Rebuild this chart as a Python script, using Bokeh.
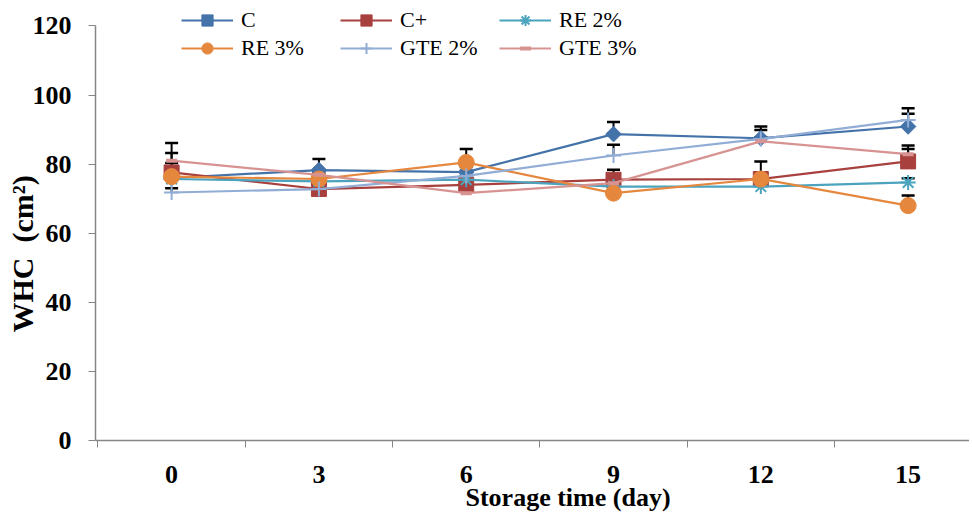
import math
from bokeh.plotting import figure
from bokeh.models import (ColumnDataSource, FixedTicker, Legend, LegendItem,
                          Whisker, TeeHead, Title, Range1d)
from bokeh.embed import file_html
from bokeh.resources import INLINE

# ---- data ----
days = [0, 3, 6, 9, 12, 15]
day_labels = ["0", "3", "6", "9", "12", "15"]
series_names = ["C", "C+", "RE 2%", "RE 3%", "GTE 2%", "GTE 3%"]

c_vals = [76.0, 78.3, 77.7, 88.7, 87.5, 90.9]
cplus_vals = [77.6, 72.8, 74.0, 75.5, 75.7, 80.8]
re2_vals = [75.7, 75.0, 75.5, 73.5, 73.5, 74.7]
re3_vals = [76.4, 75.7, 80.5, 71.6, 75.7, 68.0]
gte2_vals = [71.8, 72.8, 76.6, 82.5, 87.3, 92.8]
gte3_vals = [81.0, 76.9, 71.6, 74.5, 86.6, 82.9]

c_err = [7.2, 3.2, 1.5, 3.5, 3.4, 3.7]
cplus_err = [2.7, 1.5, 1.5, 2.9, 5.1, 4.6]
re2_err = [1.2, 1.0, 1.2, 1.0, 1.0, 1.2]
re3_err = [1.5, 1.5, 3.9, 1.5, 1.5, 2.9]
gte2_err = [1.2, 1.0, 1.5, 3.1, 2.6, 3.4]
gte3_err = [5.1, 1.0, 1.0, 1.0, 1.2, 1.5]

y_ticks = [0, 20, 40, 60, 80, 100, 120]
cat_bounds = [-1.5, 1.5, 4.5, 7.5, 10.5, 13.5]

x_title = "Storage time (day)"
y_title = "WHC\u00a0\u00a0(cm²)"

# ---- styles ----
colors = ["#4473AA", "#A8403E", "#4BA3BE", "#E5873D", "#91ADD6", "#D69391"]
markers = ["square", "square", "asterisk", "circle", "cross", "dash"]
angles = [math.pi / 4, 0, 0, 0, 0, 0]
sizes = [11, 15, 15, 16, 15, 11]
mlw = [1, 1, 2, 1, 2, 4]
filled = [True, True, False, True, False, False]

vals = [c_vals, cplus_vals, re2_vals, re3_vals, gte2_vals, gte3_vals]
errs = [c_err, cplus_err, re2_err, re3_err, gte2_err, gte3_err]

FONT = "Liberation Serif"

p = figure(width=969, height=512, output_backend="svg", toolbar_location=None,
           x_range=Range1d(-1.55, 16.25), y_range=Range1d(0, 126.8),
           min_border_left=95, min_border_right=0, min_border_top=2,
           min_border_bottom=72)
p.outline_line_color = None
p.xgrid.visible = False
p.ygrid.visible = False
p.background_fill_color = "white"

# axes
xa = p.xaxis[0]
xa.ticker = FixedTicker(ticks=days, minor_ticks=cat_bounds)
xa.major_label_overrides = {d: l for d, l in zip(days, day_labels)}
xa.major_tick_out = 0
xa.major_tick_in = 0
xa.minor_tick_out = 7
xa.minor_tick_in = 0
xa.minor_tick_line_color = "#868686"
xa.axis_line_color = "#868686"
xa.axis_line_width = 1.5
xa.major_label_text_font = FONT
xa.major_label_text_font_style = "bold"
xa.major_label_text_font_size = "26px"
xa.major_label_text_color = "black"
xa.major_label_standoff = 18

ya = p.yaxis[0]
ya.ticker = FixedTicker(ticks=y_ticks, minor_ticks=[])
ya.bounds = (0, 120)
ya.major_tick_out = 7
ya.major_tick_in = 0
ya.major_tick_line_color = "#868686"
ya.axis_line_color = "#868686"
ya.axis_line_width = 1.5
ya.major_label_text_font = FONT
ya.major_label_text_font_style = "bold"
ya.major_label_text_font_size = "26px"
ya.major_label_text_color = "black"
ya.major_label_standoff = 17

# error bars
for v, e in zip(vals, errs):
    src = ColumnDataSource(dict(x=days, y=v, up=[a + b for a, b in zip(v, e)]))
    w = Whisker(base="x", upper="up", lower="y", source=src, dimension="height",
                line_color="black", line_width=2,
                upper_head=TeeHead(size=13, line_color="black", line_width=2.5),
                lower_head=None, level="underlay")
    p.add_layout(w)

# series
renderers = {}
for i, name in enumerate(series_names):
    src = ColumnDataSource(dict(x=days, y=vals[i]))
    ln = p.line("x", "y", source=src, line_color=colors[i], line_width=2.2)
    sc = p.scatter("x", "y", source=src, marker=markers[i], size=sizes[i],
                   angle=angles[i],
                   fill_color=colors[i] if filled[i] else None,
                   line_color=colors[i], line_width=mlw[i])
    renderers[name] = [ln, sc]

# legend is filled column by column: order so rows read C, C+, RE 2% / RE 3%, GTE 2%, GTE 3%
legend_order = ["C", "RE 3%", "C+", "GTE 2%", "RE 2%", "GTE 3%"]
items = [LegendItem(label=n, renderers=renderers[n]) for n in legend_order]

legend = Legend(items=items, ncols=3, location=(86, 378),
                glyph_width=52, glyph_height=28, label_height=28,
                label_width=99, label_standoff=8, spacing=0, padding=0,
                margin=0, border_line_color=None, background_fill_alpha=0,
                label_text_font=FONT, label_text_font_size="22px",
                label_text_color="black")
p.add_layout(legend, "center")

# axis titles
p.add_layout(Title(text=x_title, align="left", offset=370,
                   vertical_align="top", standoff=-6,
                   text_font=FONT, text_font_style="bold",
                   text_font_size="26px", text_color="black"), "below")
p.add_layout(Title(text=y_title, align="left", offset=108,
                   vertical_align="bottom", standoff=-18,
                   text_font=FONT, text_font_style="bold",
                   text_font_size="30px", text_color="black"), "left")

open("out.html", "w").write(file_html(p, INLINE))
